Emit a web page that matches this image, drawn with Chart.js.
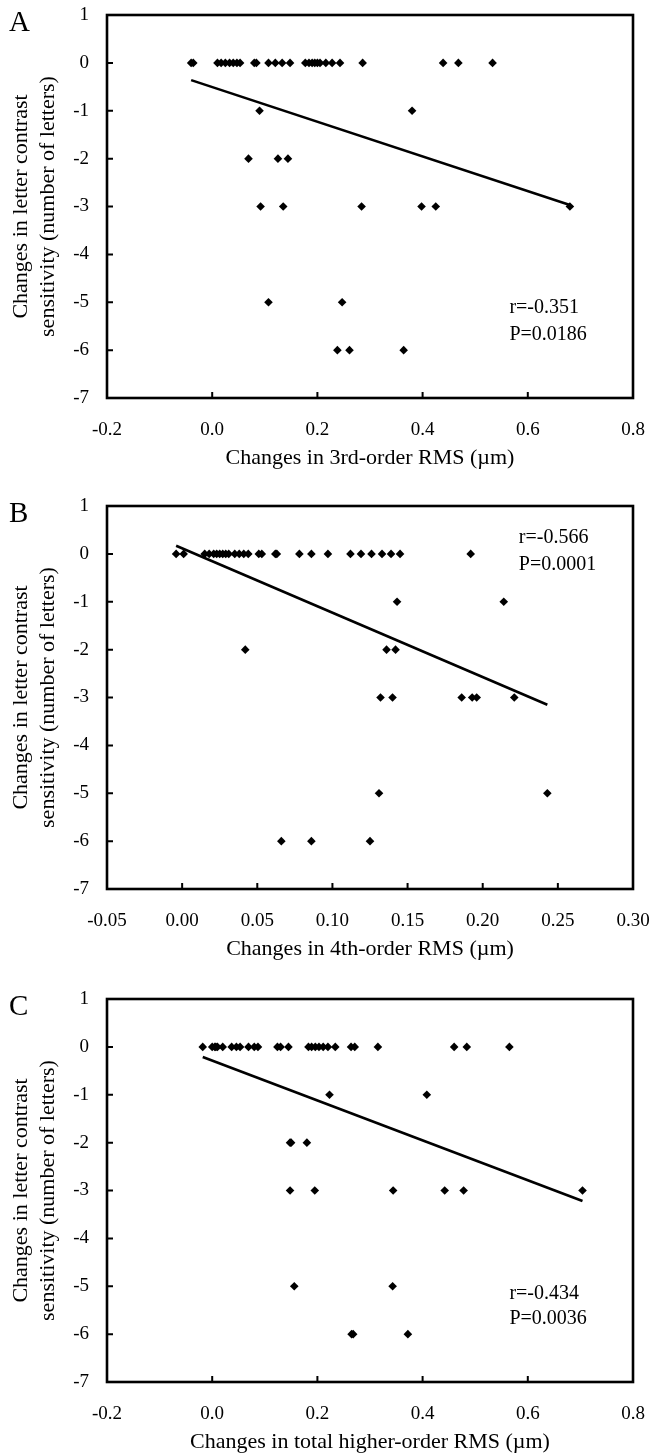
<!DOCTYPE html>
<html>
<head>
<meta charset="utf-8">
<script src="https://cdn.jsdelivr.net/npm/chart.js@4.4.1/dist/chart.umd.min.js"></script>
<style>
  body { margin: 0; background: #fff; width: 650px; height: 1455px; overflow: hidden; position: relative; }
  .panel { position: absolute; left: 0; width: 650px; height: 492px; }
</style>
</head>
<body>
<div class="panel" style="top:0"><canvas id="chartA" width="650" height="492"></canvas></div>
<div class="panel" style="top:491px"><canvas id="chartB" width="650" height="492"></canvas></div>
<div class="panel" style="top:984px"><canvas id="chartC" width="650" height="492"></canvas></div>
<script>
/* ── Data ─────────────────────────────────────────────── */
// change in letter contrast sensitivity, same eyes in all three panels
const lcsChange = [
    0, 0, 0, 0, 0, 0, 0, 0, 0, 0,
    0, 0, 0, 0, 0, 0, 0, 0, 0, 0,
    0, 0, 0, 0, 0, 0, 0, 0,
    -1, -1,
    -2, -2, -2,
    -3, -3, -3, -3, -3, -3,
    -5, -5,
    -6, -6, -6,
];

// A: 3rd-order RMS change (µm)
const rms3 = [
    -0.04, -0.036, 0.01, 0.017, 0.025, 0.033, 0.04, 0.047, 0.053, 0.08,
    0.084, 0.107, 0.12, 0.133, 0.148, 0.177, 0.184, 0.19, 0.195, 0.2,
    0.205, 0.216, 0.228, 0.243, 0.286, 0.439, 0.468, 0.533,
    0.09, 0.38,
    0.069, 0.125, 0.144,
    0.092, 0.135, 0.284, 0.398, 0.425, 0.68,
    0.107, 0.247,
    0.238, 0.261, 0.364,
];

// B: 4th-order RMS change (µm)
const rms4 = [
    -0.004, 0.001, 0.015, 0.018, 0.021, 0.023, 0.025, 0.027, 0.029, 0.031,
    0.035, 0.038, 0.041, 0.044, 0.051, 0.053, 0.062, 0.063, 0.078, 0.086,
    0.097, 0.112, 0.119, 0.126, 0.133, 0.139, 0.145, 0.192,
    0.143, 0.214,
    0.042, 0.136, 0.142,
    0.132, 0.14, 0.186, 0.193, 0.196, 0.221,
    0.131, 0.243,
    0.066, 0.086, 0.125,
];

// C: total higher-order RMS change (µm)
const rmsHO = [
    -0.018, 0.0, 0.005, 0.007, 0.01, 0.02, 0.037, 0.046, 0.053, 0.069,
    0.08, 0.087, 0.124, 0.13, 0.145, 0.183, 0.189, 0.196, 0.203, 0.211,
    0.22, 0.234, 0.264, 0.271, 0.315, 0.46, 0.484, 0.565,
    0.223, 0.408,
    0.148, 0.15, 0.18,
    0.148, 0.195, 0.344, 0.442, 0.478, 0.704,
    0.156, 0.343,
    0.265, 0.268, 0.372,
];

// regression line end points [x0, x1], [y0, y1]
const fitXA = [-0.04, 0.68],   fitYA = [-0.36, -2.97];
const fitXB = [-0.004, 0.243], fitYB = [0.17, -3.15];
const fitXC = [-0.018, 0.704], fitYC = [-0.21, -3.22];

// tick values and labels
const yTickVals = [1, 0, -1, -2, -3, -4, -5, -6, -7];
const yTickLabels = ["1", "0", "-1", "-2", "-3", "-4", "-5", "-6", "-7"];
const xTickValsAC = [-0.2, 0, 0.2, 0.4, 0.6, 0.8];
const xTickLabelsAC = ["-0.2", "0.0", "0.2", "0.4", "0.6", "0.8"];
const xTickValsB = [-0.05, 0, 0.05, 0.1, 0.15, 0.2, 0.25, 0.3];
const xTickLabelsB = ["-0.05", "0.00", "0.05", "0.10", "0.15", "0.20", "0.25", "0.30"];

const statsA = ["r=-0.351", "P=0.0186"];
const statsB = ["r=-0.566", "P=0.0001"];
const statsC = ["r=-0.434", "P=0.0036"];

/* ── Frame, ticks, letters, stats ─────────────────────── */
const SERIF = "'Liberation Serif', 'Times New Roman', serif";

const framePlugin = {
    id: "frame",
    beforeDatasetsDraw(chart) {
        const { ctx, chartArea: a, scales: { x, y } } = chart;
        ctx.save();
        ctx.strokeStyle = "#000";
        ctx.lineWidth = 2;
        ctx.beginPath();
        y.ticks.forEach(t => {
            const py = y.getPixelForValue(t.value);
            ctx.moveTo(a.left, py);
            ctx.lineTo(a.left + 6, py);
        });
        x.ticks.slice(1, -1).forEach(t => {
            const px = x.getPixelForValue(t.value);
            ctx.moveTo(px, a.bottom);
            ctx.lineTo(px, a.bottom - 6);
        });
        ctx.stroke();
        ctx.lineWidth = 2.6;
        ctx.strokeRect(a.left, a.top, a.right - a.left, a.bottom - a.top);
        ctx.restore();
    },
    afterDraw(chart, args, opts) {
        const { ctx, chartArea: a, scales: { x, y } } = chart;
        ctx.save();
        ctx.fillStyle = "#000";
        ctx.font = `29px ${SERIF}`;
        ctx.textBaseline = "alphabetic";
        ctx.fillText(opts.letter, 9, a.top + 16);
        ctx.font = `20px ${SERIF}`;
        ctx.textBaseline = "middle";
        opts.lines.forEach((txt, i) => {
            ctx.fillText(txt, x.getPixelForValue(opts.at[0]), y.getPixelForValue(opts.at[1][i]));
        });
        ctx.restore();
    },
};

/* ── Chart builder ────────────────────────────────────── */
function makePanel(id, xs, ys, fitX, fitY, xVals, xLabels, xTitle, letter, lines, at) {
    const pts = xs.map((v, i) => ({ x: v, y: ys[i] }));
    const fit = fitX.map((v, i) => ({ x: v, y: fitY[i] }));

    return new Chart(document.getElementById(id), {
        type: "scatter",
        data: {
            datasets: [
                {
                    data: pts,
                    pointStyle: "rectRot",
                    pointRadius: 4.3,
                    backgroundColor: "#000",
                    borderWidth: 0,
                },
                {
                    type: "line",
                    data: fit,
                    borderColor: "#000",
                    borderWidth: 2.6,
                    pointRadius: 0,
                    fill: false,
                },
            ],
        },
        options: {
            responsive: false,
            animation: false,
            layout: { padding: { top: 15, right: 17, left: 0, bottom: 0 } },
            plugins: {
                legend: { display: false },
                tooltip: { enabled: false },
                frame: { letter, lines, at },
            },
            scales: {
                x: {
                    type: "linear",
                    min: xVals[0],
                    max: xVals[xVals.length - 1],
                    afterBuildTicks: s => { s.ticks = xVals.map(v => ({ value: v })); },
                    afterFit: s => {
                        s.height = 94;
                        s.paddingLeft = 0;
                        s.paddingRight = 0;
                    },
                    ticks: {
                        callback: (v, i) => xLabels[i],
                        color: "#000",
                        font: { family: SERIF, size: 19 },
                        padding: 21,
                        maxRotation: 0,
                    },
                    grid: { display: false, drawTicks: false },
                    border: { display: false },
                    title: {
                        display: true,
                        text: xTitle,
                        color: "#000",
                        font: { family: SERIF, size: 22 },
                        padding: { top: 0, bottom: 21 },
                    },
                },
                y: {
                    min: -7,
                    max: 1,
                    afterBuildTicks: s => { s.ticks = yTickVals.map(v => ({ value: v })); },
                    afterFit: s => {
                        s.width = 107;
                        s.paddingTop = 0;
                        s.paddingBottom = 0;
                    },
                    ticks: {
                        callback: (v, i) => yTickLabels[i],
                        color: "#000",
                        font: { family: SERIF, size: 19 },
                        padding: 18,
                    },
                    grid: { display: false, drawTicks: false },
                    border: { display: false },
                    title: {
                        display: true,
                        text: ["Changes in letter contrast", "sensitivity (number of letters)"],
                        color: "#000",
                        font: { family: SERIF, size: 22, lineHeight: 1.25 },
                        padding: { top: 7, bottom: 0 },
                    },
                },
            },
        },
        plugins: [framePlugin],
    });
}

makePanel("chartA", rms3, lcsChange, fitXA, fitYA, xTickValsAC, xTickLabelsAC,
    "Changes in 3rd-order RMS (µm)", "A", statsA, [0.565, [-5.12, -5.67]]);
makePanel("chartB", rms4, lcsChange, fitXB, fitYB, xTickValsB, xTickLabelsB,
    "Changes in 4th-order RMS (µm)", "B", statsB, [0.224, [0.33, -0.23]]);
makePanel("chartC", rmsHO, lcsChange, fitXC, fitYC, xTickValsAC, xTickLabelsAC,
    "Changes in total higher-order RMS (µm)", "C", statsC, [0.565, [-5.15, -5.67]]);
</script>
</body>
</html>
